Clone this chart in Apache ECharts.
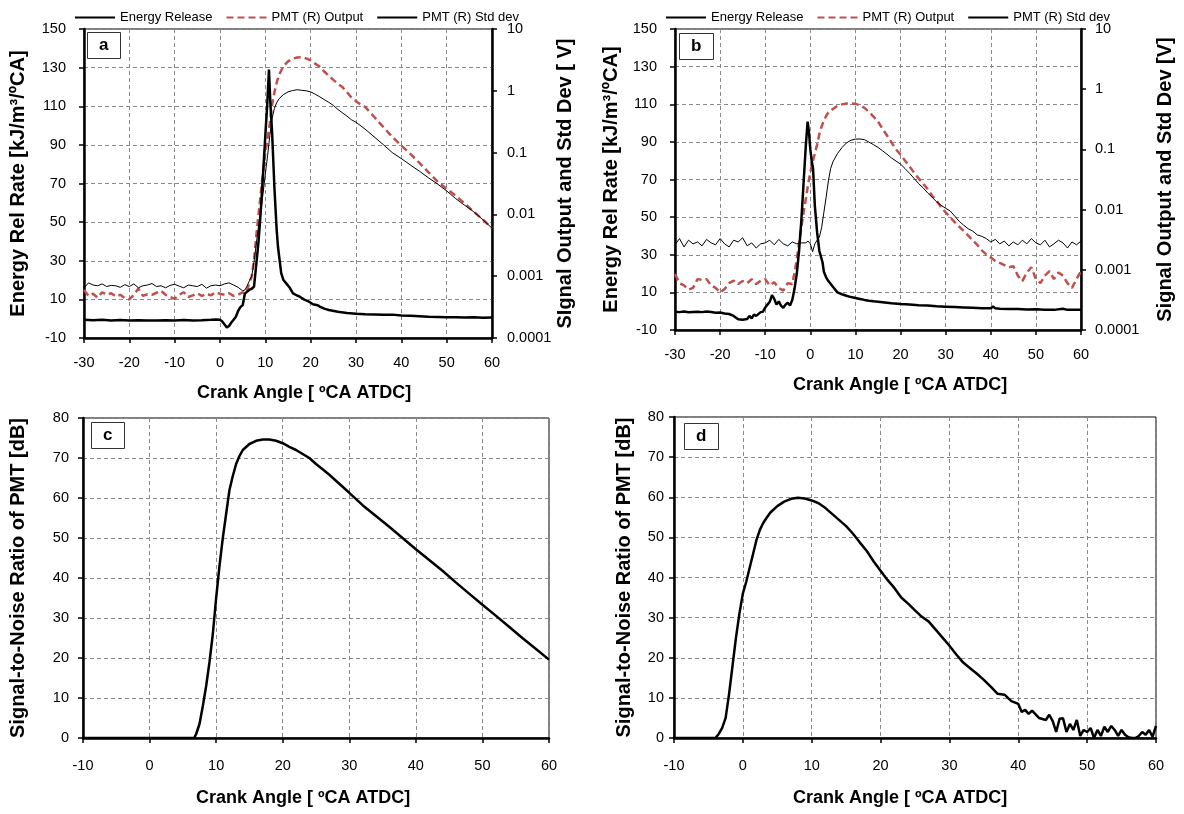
<!DOCTYPE html>
<html>
<head>
<meta charset="utf-8">
<script src="https://cdn.jsdelivr.net/npm/echarts@6/dist/echarts.min.js"></script>
<style>
html,body{margin:0;padding:0;background:#fff;}
#chart{width:1184px;height:814px;}
</style>
</head>
<body>
<div id="chart"></div>
<script>
// ---------- Panel a ----------
const aEnergyX = [-30,-28,-26,-24,-22,-20,-18,-16,-14,-12,-10,-8,-6,-4,-2,-1,0,0.5,1,1.5,2,2.5,3,3.5,4,4.5,5,5.5,6,6.5,7,7.5,8,8.5,9,9.5,10,10.4,10.8,11.1,11.5,12,12.5,12.8,13.5,14,14.6,15.4,16.1,17,17.6,18.5,19.5,19.8,20.5,21.5,22,23,24,26,28,30,32,34,36,38,40,42,44,46,48,50,52,54,56,58,60];
const aEnergyY = [-0.5,-0.8,-0.6,-0.9,-0.7,-1.0,-0.8,-0.9,-1.0,-0.8,-0.9,-0.7,-0.9,-0.8,-0.6,-0.4,-0.6,-1.5,-3,-4.5,-3.8,-2,-0.5,1,4,6,7,13,14,15,15.5,16.6,28,40,56,75,95,110,129,112,96,68,46,37,23.6,20,18.3,16,13.1,12,11.4,10,9,9.8,7.5,7,6.3,5.2,4.5,3.6,3,2.5,2.3,2.2,2,2.1,1.6,1.5,1.3,1.0,0.9,0.8,0.7,0.6,0.8,0.5,0.6];

const aOutX = [-30,-29,-28,-27,-26,-25,-24,-23,-22,-21,-20,-19,-18,-17,-16,-15,-14,-13,-12,-11,-10,-9,-8,-7,-6,-5,-4,-3,-2,-1,0,1,2,3,4,5,5.5,6,6.5,7,7.5,8,8.5,9,9.5,10,10.5,11,11.5,12,12.5,13,14,15,16,17,18,19,20,21,22,23,24,25,26,27,28,29,30,31,32,34,36,38,40,42,44,46,48,50,52,54,56,58,60];
const aOutY = [0.0006,0.00048,0.00052,0.00045,0.00055,0.0005,0.00053,0.00047,0.0005,0.00044,0.00042,0.0005,0.00063,0.00048,0.00051,0.0005,0.00054,0.00058,0.0005,0.00046,0.00043,0.0005,0.00055,0.00046,0.00049,0.00053,0.00048,0.00052,0.00049,0.00055,0.00052,0.0005,0.00053,0.00048,0.0005,0.00055,0.00052,0.0006,0.0008,0.001,0.0018,0.0045,0.01,0.022,0.05,0.1,0.17,0.3,0.6,0.95,1.35,1.8,2.5,3.0,3.3,3.45,3.5,3.35,3.1,2.75,2.45,2.05,1.75,1.5,1.3,1.15,0.95,0.78,0.68,0.6,0.55,0.38,0.26,0.18,0.13,0.095,0.068,0.048,0.034,0.026,0.02,0.015,0.011,0.0082,0.006];

const aStdX = [-30,-29,-28,-27,-26,-25,-24,-23,-22,-21,-20,-19,-18,-17,-16,-15,-14,-13,-12,-11,-10,-9,-8,-7,-6,-5,-4,-3,-2,-1,0,1,2,3,4,5,5.5,6,6.5,7,7.5,8,8.5,9,9.5,10,10.5,11,11.5,12,12.5,13,14,15,16,17,18,19,20,21,22,23,24,25,26,27,28,29,30,32,34,36,38,40,42,44,46,48,50,52,54,56,58,60];
const aStdY = [0.00065,0.00078,0.00072,0.0007,0.00075,0.00068,0.00071,0.0007,0.00066,0.00073,0.00068,0.00075,0.00065,0.0007,0.00072,0.00076,0.00068,0.0007,0.00065,0.00071,0.00074,0.00069,0.00065,0.00072,0.0007,0.00068,0.00074,0.00064,0.0007,0.00072,0.0007,0.00075,0.00078,0.00072,0.00066,0.00058,0.0006,0.0007,0.00085,0.001,0.0017,0.0033,0.0065,0.011,0.022,0.045,0.09,0.19,0.36,0.52,0.64,0.74,0.87,0.96,1.01,1.04,1.02,1.0,0.96,0.88,0.8,0.72,0.65,0.58,0.5,0.44,0.39,0.34,0.31,0.24,0.18,0.135,0.1,0.08,0.063,0.05,0.039,0.031,0.024,0.018,0.014,0.011,0.0082,0.006];

// ---------- Panel b ----------
const bEnergyX = [-30,-29,-28,-27,-26,-25,-24,-23,-22,-21,-20,-19,-18,-17,-16,-15,-14,-13.5,-13,-12.5,-12,-11,-10.5,-10,-9.5,-9,-8.5,-8,-7.5,-7,-6.5,-6,-5.5,-5,-4.5,-4,-3.5,-3,-2.5,-2,-1.5,-1,-0.6,-0.3,0,0.3,0.6,1,1.5,2,2.7,3,3.5,4,5,6,7,8,9,10,11,12,13,14,16,18,20,22,24,26,28,30,32,34,36,38,40,40.5,41,42,44,46,48,50,52,54,56,57,58,60];
const bEnergyY = [-0.3,-0.5,-0.2,-0.6,-0.4,-0.3,-0.5,-0.2,-0.4,-0.8,-0.7,-1.2,-1.5,-2.5,-4.3,-4.5,-4.2,-2.5,-3.8,-1.8,-2.5,-0.5,-0.3,2,3.5,5,8.5,6.5,3.5,5.2,3,1.8,3.5,4.5,3,6,12,20,32,48,68,88,100.8,95,86,80,76,56,42,32,26,21,18,16,13,10,9,8.2,7.5,7,6.5,6,5.6,5.3,4.8,4.2,3.8,3.5,3.2,3,2.6,2.4,2.2,2.0,1.8,1.6,1.5,2.5,1.5,1.3,1.2,1.1,0.9,1.0,0.8,0.7,1.3,0.7,0.8,0.8];

const bOutX = [-30,-29,-28,-27,-26,-25,-24,-23,-22,-21,-20,-19,-18,-17,-16,-15,-14,-13,-12,-11,-10,-9,-8,-7,-6,-5,-4,-3.5,-3,-2.5,-2,-1.5,-1,-0.5,0,0.5,1,1.5,2,2.5,3,3.5,4,5,6,7,8,9,10,11,12,13,14,15,16,17,18,19,20,21,22,23,24,25,26,27,28,29,30,31,32,33,34,35,36,37,38,39,40,41,42,43,44,45,46,47,48,49,50,51,52,53,54,55,56,57,58,59,60];
const bOutY = [0.00085,0.0006,0.00055,0.00047,0.0005,0.0007,0.00068,0.0007,0.00055,0.0005,0.00042,0.00048,0.0006,0.00066,0.00058,0.00065,0.0006,0.0007,0.00058,0.00066,0.0007,0.00055,0.00062,0.0005,0.00045,0.0006,0.00058,0.0009,0.0015,0.0028,0.005,0.009,0.015,0.026,0.042,0.062,0.085,0.12,0.18,0.24,0.3,0.36,0.41,0.47,0.53,0.56,0.58,0.58,0.57,0.54,0.49,0.42,0.35,0.29,0.22,0.17,0.13,0.1,0.082,0.065,0.052,0.041,0.033,0.027,0.022,0.017,0.014,0.011,0.009,0.0075,0.0062,0.0052,0.0044,0.0037,0.0031,0.0026,0.0021,0.0018,0.0016,0.0014,0.0013,0.0012,0.0011,0.00115,0.0008,0.00065,0.0009,0.0011,0.0007,0.0006,0.0008,0.00095,0.0007,0.0009,0.0008,0.0006,0.0005,0.0007,0.00095];

const bStdX = [-30,-29,-28,-27,-26,-25,-24,-23,-22,-21,-20,-19,-18,-17,-16,-15,-14,-13,-12,-11,-10,-9,-8,-7,-6,-5,-4,-3,-2,-1,-0.5,0,0.5,1,1.5,2,2.5,3,3.5,4,4.5,5,6,7,8,9,10,11,12,13,14,15,16,17,18,19,20,21,22,23,24,25,26,27,28,29,30,31,32,33,34,35,36,37,38,39,40,41,42,43,44,45,46,47,48,49,50,51,52,53,54,55,56,57,58,59,60];
const bStdY = [0.0026,0.0033,0.0024,0.0031,0.0027,0.0029,0.0025,0.0032,0.0028,0.0026,0.0033,0.0027,0.0024,0.0031,0.0029,0.0034,0.0025,0.0028,0.0023,0.0027,0.0028,0.0031,0.0026,0.0032,0.0027,0.0025,0.0029,0.0027,0.0028,0.0028,0.003,0.0027,0.002,0.0027,0.0031,0.0035,0.005,0.009,0.016,0.03,0.048,0.062,0.085,0.107,0.128,0.142,0.148,0.149,0.145,0.132,0.12,0.108,0.095,0.083,0.072,0.064,0.057,0.048,0.04,0.033,0.027,0.023,0.019,0.016,0.0135,0.0118,0.0105,0.0095,0.0078,0.0064,0.0055,0.0048,0.0044,0.0038,0.0036,0.0033,0.0029,0.0032,0.0027,0.003,0.0025,0.0029,0.0026,0.0031,0.0027,0.0033,0.0028,0.0026,0.0031,0.0024,0.0027,0.0031,0.0028,0.0023,0.0029,0.0026,0.003];

// ---------- Panel c ----------
const cSnrX = [-10,-5,0,5,6.7,7,7.5,8,8.5,9,9.5,10,10.5,11,11.5,12,12.5,13,13.5,14,15,16,17,18,19,20,21,22,23,24,25,26,27,28,29,30,32,34,36,38,40,42,44,46,48,50,52,54,56,58,60];
const cSnrY = [0,0,0,0,0,1,3.5,8,13,19,26,35,43,50,56,62,65.5,68.5,70.5,72,73.5,74.3,74.6,74.6,74.3,73.7,72.8,72,71,70,68.5,67.2,65.8,64.3,62.8,61.3,58.2,55.5,52.8,50,47.2,44.5,41.8,38.9,36.1,33.3,30.6,27.8,25,22.3,19.6];

// ---------- Panel d ----------
const dSnrX = [-10,-5,-4,-3.8,-3.5,-3,-2.5,-2,-1.5,-1,-0.5,0,0.5,1,1.5,2,2.5,3,3.5,4,5,6,7,8,9,10,11,12,13,14,15,16,17,18,19,20,21,22,23,24,25,26,27,28,29,30,31,32,33,34,35,36,37,38,39,40,40.5,41,41.5,42,43,44,44.5,45,45.5,46,46.5,47,47.5,48,48.5,49,49.5,50,50.5,51,51.5,52,52.5,53,53.5,54,54.5,55,55.5,56,56.5,57,57.5,58,58.5,59,59.5,60];
const dSnrY = [0,0,0,0.3,1,2.5,5,11,18,25,31,36,39,42.5,46,49.5,52,53.7,55,56.2,57.8,58.9,59.6,59.9,59.7,59.2,58.5,57.3,55.8,54.3,52.8,50.9,48.7,46.6,44,41.7,39.4,37.4,35,33.5,31.8,30.2,29,27,25,23,20.8,18.8,17.4,16,14.5,12.8,11,10.8,9.2,8.5,6.5,7,6,6.8,5,4.5,5.8,4.2,1.5,4.8,4.9,1.5,3.5,2,4.5,0.5,2,1.5,2.5,0,2,0.5,2.8,1.5,3,2,0.5,2,0.8,0.2,0,0,0.5,1.5,0.8,2,0.3,3];

// ---------- tick / label text ----------
const seriesNames = ['Energy Release', 'PMT (R) Output', 'PMT (R) Std dev'];
const panelLetters = ['a', 'b', 'c', 'd'];
const xTitle = 'Crank Angle [ ºCA ATDC]';
const yTitleAB = 'Energy Rel Rate [kJ/m³/ºCA]';
const yRightTitleA = 'SIgnal Output and Std Dev [ V]';
const yRightTitleB = 'Signal Output and Std Dev [V]';
const yTitleCD = 'Signal-to-Noise Ratio of PMT [dB]';

const FONT = '"Liberation Sans", Arial, sans-serif';
const pairs = (xs, ys) => xs.map((x, i) => [x, ys[i]]);
const RED = '#C0504D';
const GRID_LINE = { show: true, lineStyle: { color: '#8a8a8a', type: [4, 3], width: 1 } };
const tickLbl = (margin) => ({ color: '#000', fontSize: 14.5, fontFamily: FONT, margin });
const axLine = { show: true, onZero: false, lineStyle: { color: '#000', width: 2.5 } };
const axTick = { show: true, length: 5, lineStyle: { color: '#000', width: 1.5 } };
const logFmt = (v) => { const e = Math.round(Math.log10(v)); return e >= 0 ? String(Math.pow(10, e)) : Math.pow(10, e).toFixed(-e); };

function xAx(grid, min, gap, pad, labelMargin) {
  return {
    gridIndex: grid, type: 'value', min, max: 60, interval: 10,
    axisLine: axLine, axisTick: axTick, splitLine: GRID_LINE,
    axisLabel: tickLbl(labelMargin),
    name: xTitle, nameLocation: 'middle', nameGap: gap,
    nameTextStyle: { fontSize: 18, fontWeight: 'bold', fontFamily: FONT, color: '#000', padding: pad }
  };
}
function yName(text, gap) {
  return { name: text, nameLocation: 'middle', nameGap: gap,
    nameTextStyle: { fontSize: 20, fontWeight: 'bold', fontFamily: FONT, color: '#000' } };
}

const grids = [
  { left: 84, top: 29, width: 408, height: 309 },
  { left: 675, top: 29, width: 406, height: 301 },
  { left: 83, top: 418, width: 466, height: 320 },
  { left: 674, top: 417, width: 482, height: 321 }
].map(g => Object.assign(g, { show: true, borderColor: '#000', borderWidth: 1, containLabel: false }));

const legendBase = {
  top: 6, itemWidth: 40, itemHeight: 12, itemGap: 13, data: seriesNames,
  itemStyle: { opacity: 0, borderWidth: 0 },
  textStyle: { fontSize: 13, fontFamily: FONT, color: '#000' }
};

const option = {
  animation: false,
  backgroundColor: '#fff',
  textStyle: { fontFamily: FONT },
  grid: grids,
  title: panelLetters.map((t, i) => ({
    text: t,
    left: [87, 679, 91, 684][i], top: [32, 33, 422, 423][i],
    padding: [5, 12, 5, 12],
    borderColor: '#333', borderWidth: 1, backgroundColor: '#fff',
    textStyle: { fontSize: 17, fontWeight: 'bold', fontFamily: FONT, color: '#000' }
  })),
  legend: [
    Object.assign({ left: 69 }, legendBase),
    Object.assign({ left: 660 }, legendBase)
  ],
  xAxis: [
    xAx(0, -30, 46, [0, 0, 0, 32], 17),
    xAx(1, -30, 46, [0, 0, 0, 44], 17),
    xAx(2, -10, 51, [0, 26, 0, 0], 20),
    xAx(3, -10, 51, [0, 30, 0, 0], 20)
  ],
  yAxis: [
    Object.assign({ gridIndex: 0, type: 'value', min: -10, max: 150, interval: 20, position: 'left',
      axisLine: axLine, axisTick: axTick, splitLine: GRID_LINE, axisLabel: tickLbl(18) }, yName(yTitleAB, 56)),
    Object.assign({ gridIndex: 0, type: 'log', logBase: 10, min: 0.0001, max: 10, position: 'right',
      axisLine: axLine, axisTick: axTick, splitLine: { show: false }, minorTick: { show: false },
      axisLabel: Object.assign(tickLbl(15), { formatter: logFmt }) }, yName(yRightTitleA, 59)),
    Object.assign({ gridIndex: 1, type: 'value', min: -10, max: 150, interval: 20, position: 'left',
      axisLine: axLine, axisTick: axTick, splitLine: GRID_LINE, axisLabel: tickLbl(18) }, yName(yTitleAB, 54)),
    Object.assign({ gridIndex: 1, type: 'log', logBase: 10, min: 0.0001, max: 10, position: 'right',
      axisLine: axLine, axisTick: axTick, splitLine: { show: false }, minorTick: { show: false },
      axisLabel: Object.assign(tickLbl(14), { formatter: logFmt }) }, yName(yRightTitleB, 74)),
    Object.assign({ gridIndex: 2, type: 'value', min: 0, max: 80, interval: 10,
      axisLine: axLine, axisTick: axTick, splitLine: GRID_LINE, axisLabel: tickLbl(14) }, yName(yTitleCD, 55)),
    Object.assign({ gridIndex: 3, type: 'value', min: 0, max: 80, interval: 10,
      axisLine: axLine, axisTick: axTick, splitLine: GRID_LINE, axisLabel: tickLbl(10) }, yName(yTitleCD, 40))
  ],
  series: [
    { name: seriesNames[1], type: 'line', xAxisIndex: 0, yAxisIndex: 1, data: pairs(aOutX, aOutY), symbol: 'none', z: 3,
      lineStyle: { color: RED, width: 2.5, type: [7, 4] }, itemStyle: { color: RED } },
    { name: seriesNames[2], type: 'line', xAxisIndex: 0, yAxisIndex: 1, data: pairs(aStdX, aStdY), symbol: 'none', z: 4,
      lineStyle: { color: '#000', width: 1 }, itemStyle: { color: '#000' } },
    { name: seriesNames[0], type: 'line', xAxisIndex: 0, yAxisIndex: 0, data: pairs(aEnergyX, aEnergyY), symbol: 'none', z: 5,
      lineStyle: { color: '#000', width: 2.5 }, itemStyle: { color: '#000' } },
    { name: seriesNames[1], type: 'line', xAxisIndex: 1, yAxisIndex: 3, data: pairs(bOutX, bOutY), symbol: 'none', z: 3,
      lineStyle: { color: RED, width: 2.5, type: [7, 4] }, itemStyle: { color: RED } },
    { name: seriesNames[2], type: 'line', xAxisIndex: 1, yAxisIndex: 3, data: pairs(bStdX, bStdY), symbol: 'none', z: 4,
      lineStyle: { color: '#000', width: 1 }, itemStyle: { color: '#000' } },
    { name: seriesNames[0], type: 'line', xAxisIndex: 1, yAxisIndex: 2, data: pairs(bEnergyX, bEnergyY), symbol: 'none', z: 5,
      lineStyle: { color: '#000', width: 2.5 }, itemStyle: { color: '#000' } },
    { name: 'SNR c', type: 'line', xAxisIndex: 2, yAxisIndex: 4, data: pairs(cSnrX, cSnrY), symbol: 'none',
      lineStyle: { color: '#000', width: 2.5 }, itemStyle: { color: '#000' } },
    { name: 'SNR d', type: 'line', xAxisIndex: 3, yAxisIndex: 5, data: pairs(dSnrX, dSnrY), symbol: 'none',
      lineStyle: { color: '#000', width: 2.5 }, itemStyle: { color: '#000' } }
  ]
};

const chart = echarts.init(document.getElementById('chart'), null, { renderer: 'canvas' });
chart.setOption(option);
</script>
</body>
</html>
